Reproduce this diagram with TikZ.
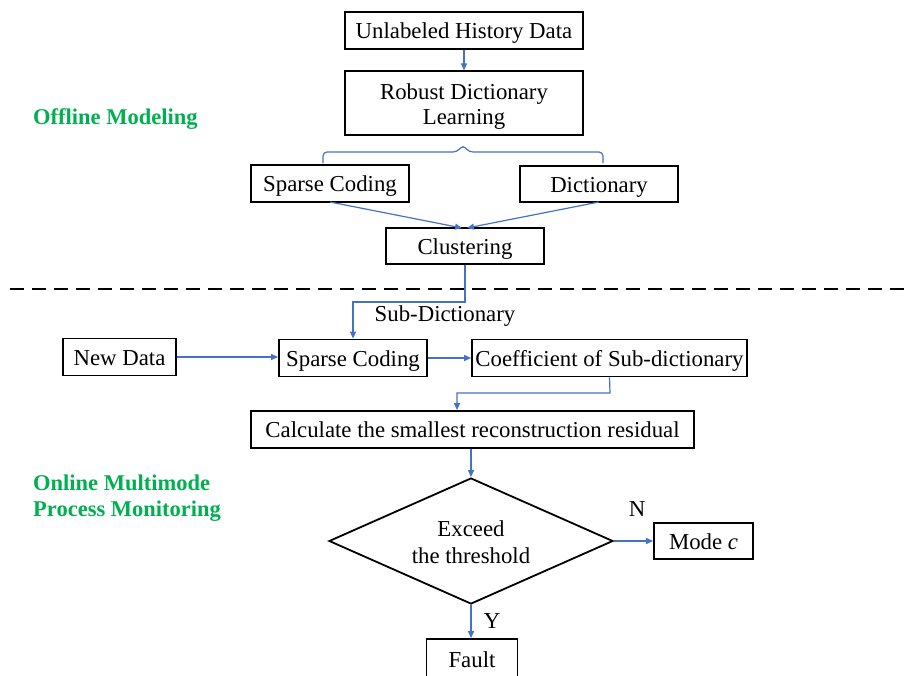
\documentclass[tikz,border=0pt]{standalone}
\usepackage{fontspec}
\setmainfont{Liberation Serif}
\usetikzlibrary{arrows.meta,shapes.geometric}
\definecolor{arrblue}{RGB}{68,114,196}
\definecolor{offgreen}{RGB}{0,176,80}
\newcommand{\lowtext}[2]{\raisebox{-#1}[\height][\depth]{#2}}
\begin{document}
\begin{tikzpicture}[x=1pt,y=-1pt,
  box/.style={draw=black,line width=1.8pt,inner sep=0pt,font=\fontsize{22.8}{27}\selectfont,align=center},
  one/.style={box,text height=16pt,text depth=0pt},
  arr/.style={draw=arrblue,line width=1.2pt,-{Triangle[length=7pt,width=6pt]}},
  lbl/.style={font=\fontsize{22.8}{27}\selectfont,inner sep=0pt,text height=16pt,text depth=0pt},
  grn/.style={font=\fontsize{22.5}{26}\selectfont\bfseries,text=offgreen,align=left,inner sep=0pt,anchor=west}]
\useasboundingbox (0,0) rectangle (909,675);
\node[one,minimum width=238pt,minimum height=37pt] (uhd) at (464,30.5) {Unlabeled History Data};
\node[box,minimum width=238pt,minimum height=64pt] (rdl) at (464,103.3) {\lowtext{3.5pt}{\fontsize{22.8}{25.5}\selectfont\begin{tabular}{@{}c@{}}Robust Dictionary\\Learning\end{tabular}}};
\node[one,minimum width=158pt,minimum height=37pt] (sc1) at (330,183.5) {Sparse Coding};
\node[one,minimum width=158pt,minimum height=36pt] (dic) at (599,184) {Dictionary};
\node[one,minimum width=158pt,minimum height=36pt] (clu) at (465,246) {Clustering};
\node[one,minimum width=113pt,minimum height=37pt] (nd) at (119.5,357) {New Data};
\node[one,minimum width=148pt,minimum height=37pt] (sc2) at (353,358) {Sparse Coding};
\node[one,minimum width=275pt,minimum height=37pt] (coef) at (609.5,358) {Coefficient of Sub-dictionary};
\node[one,minimum width=443pt,minimum height=37pt] (calc) at (472.5,429.5) {Calculate the smallest reconstruction residual};
\node[box,diamond,minimum width=284pt,minimum height=126pt,aspect=2.25] (dia) at (471,541) {\lowtext{4pt}{\begin{tabular}{@{}c@{}}Exceed\\the threshold\end{tabular}}};
\node[one,minimum width=99pt,minimum height=36pt] (mode) at (703.5,541) {Mode \textit{c}};
\node[one,minimum width=91pt,minimum height=40pt] (fault) at (472,659) {Fault};
\node[lbl] (subd) at (445,313) {Sub-Dictionary};
\node[lbl] (nlab) at (637,508) {N};
\node[lbl] (ylab) at (492,620) {Y};
\node[grn] (off) at (33,119) {Offline Modeling};
\node[grn] (onl) at (33,498) {Online Multimode\\Process Monitoring};
\coordinate (e1) at (610,393);
\coordinate (e2) at (457,393);
\coordinate (c1) at (465,302);
\coordinate (c2) at (353,302);
% brace
\draw[arrblue,line width=1.2pt,rounded corners=4pt] (323,163) -- (323,152) -- (457,152) -- (463,145) -- (469,152) -- (603,152) -- (603,163);
% arrows
\draw[arr] (uhd.south) -- (rdl.north);
\draw[arr] (330,202) -- (462,228);
\draw[arr] (599,202) -- (467,228);
\draw[arr] (clu.south) -- (c1) -- (c2) -- (sc2.north);
\draw[arr] (nd.east) -- (nd.east -| sc2.west);
\draw[arr] (sc2.east) -- (coef.west);
\draw[arr] (coef.south) -- (e1) -- (e2) -- (e2 |- calc.north);
\draw[arr] (calc.south -| dia.north) -- (dia.north);
\draw[arr] (dia.east) -- (mode.west);
\draw[arr] (dia.south) -- (dia.south |- fault.north);
% dashed separator
\draw[line width=2.6pt,dash pattern=on 14pt off 8pt] (10,289) -- (909,289);
\end{tikzpicture}
\end{document}
